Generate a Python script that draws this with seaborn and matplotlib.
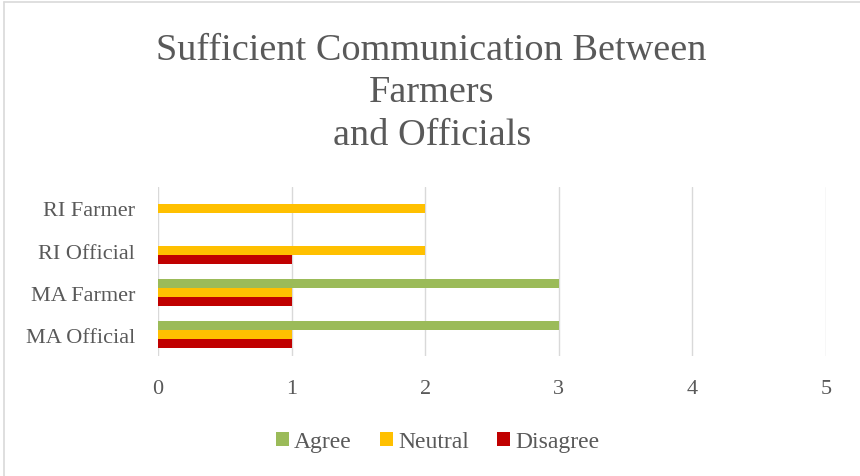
import matplotlib
matplotlib.use("Agg")
import matplotlib.pyplot as plt
from matplotlib.lines import Line2D
from matplotlib.patches import Patch
import seaborn as sns
import pandas as pd

categories = ["RI Farmer", "RI Official", "MA Farmer", "MA Official"]
series = ["Agree", "Neutral", "Disagree"]
agree = [0, 0, 3, 3]
neutral = [2, 2, 1, 1]
disagree = [0, 1, 1, 1]
colors = ["#9BBB59", "#FFC000", "#C00000"]
xticks = [0, 1, 2, 3, 4, 5]
title = "Sufficient Communication Between\nFarmers\nand Officials"

rows = []
for s, vals in zip(series, [agree, neutral, disagree]):
    for c, v in zip(categories, vals):
        rows.append({"Group": c, "Response": s, "Count": v})
df = pd.DataFrame(rows)

sns.set_theme(style="white")
plt.rcParams["font.family"] = ["Liberation Serif", "DejaVu Serif"]
text_color = "#595959"

fig = plt.figure(figsize=(8.6, 4.77), dpi=100)
ax = fig.add_axes([0.1837, 0.252, 0.7768, 0.353])

sns.barplot(data=df, y="Group", x="Count", hue="Response", order=categories,
            hue_order=series, palette=colors, orient="h", width=0.64,
            linewidth=0, saturation=1, ax=ax, legend=False)

ax.set_xlim(0, 5)
ax.set_xticks(xticks)
ax.set_xticklabels([str(t) for t in xticks])
ax.set_xlabel("")
ax.set_ylabel("")
ax.grid(axis="x", color="#D9D9D9", linewidth=1)
ax.set_axisbelow(True)
for sp in ax.spines.values():
    sp.set_visible(False)
ax.tick_params(axis="both", length=0, labelsize=16, colors=text_color)
ax.tick_params(axis="x", pad=17)
ax.tick_params(axis="y", pad=16.5)

fig.text(0.502, 0.930, title, ha="center", va="top", fontsize=27.5,
         color=text_color, linespacing=1.3)

handles = [Patch(facecolor=c, edgecolor="none", label=s) for s, c in zip(series, colors)]
fig.legend(handles=handles, loc="center", bbox_to_anchor=(0.509, 0.072), ncol=3,
           frameon=False, fontsize=17, handlelength=0.55, handleheight=0.55,
           handletextpad=0.2, columnspacing=1.2, labelcolor=text_color)

fig.add_artist(Line2D([0.0045, 0.0045], [0, 0.994], transform=fig.transFigure,
                      color="#D9D9D9", linewidth=1.2))
fig.add_artist(Line2D([0.0045, 1], [0.994, 0.994], transform=fig.transFigure,
                      color="#D9D9D9", linewidth=1.2))

fig.savefig("out.png", dpi=100, facecolor="white")
